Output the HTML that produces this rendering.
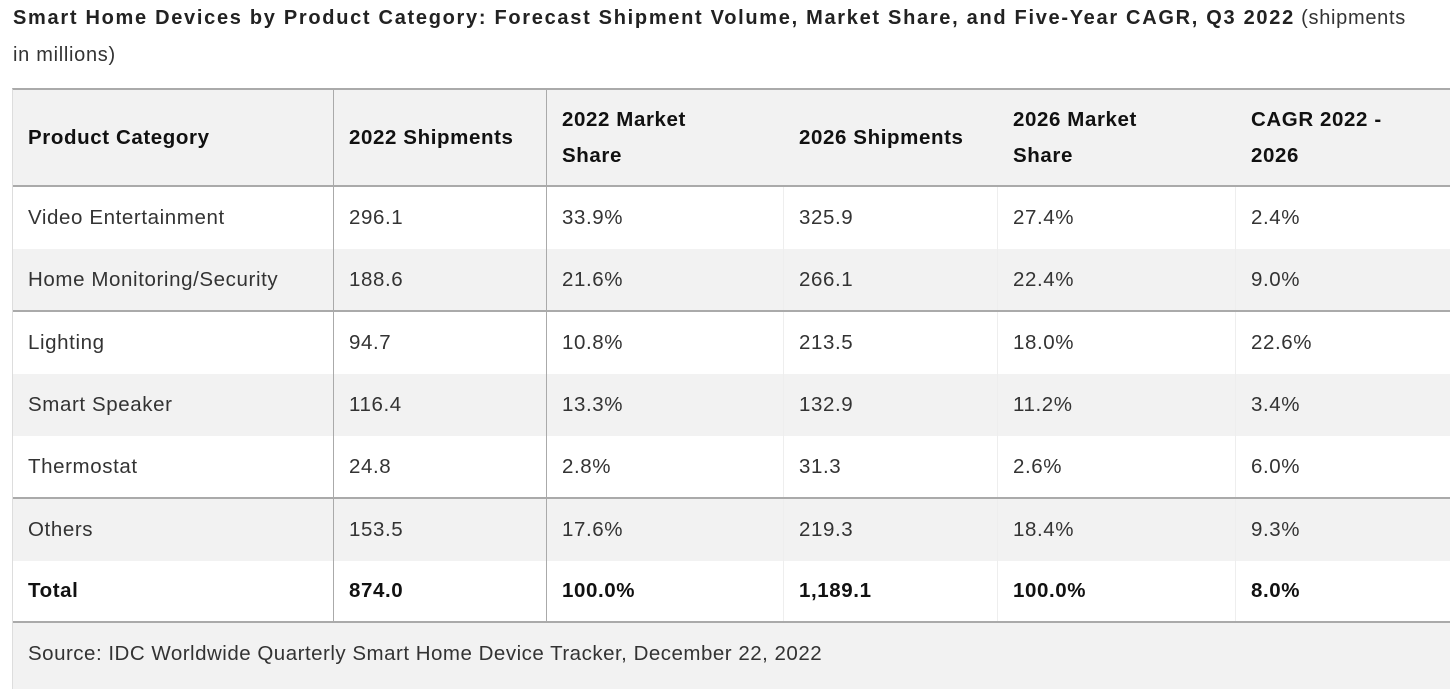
<!DOCTYPE html>
<html><head><meta charset="utf-8">
<style>
*{margin:0;padding:0;box-sizing:border-box}
body{width:1450px;height:689px;background:#fff;font-family:"Liberation Sans",Arial,sans-serif;color:#333;position:relative;overflow:hidden}
.title{position:absolute;left:13px;top:0px;width:1430px;font-size:20px;line-height:37px;color:#333;letter-spacing:0.7px}
.title b{color:#222;letter-spacing:1.7px}
.tbl{position:absolute;left:12px;top:88px;width:1438px;border-left:1px solid #ddd;border-top:2px solid #aaa}
.row{position:relative;display:flex;font-size:20.5px;letter-spacing:0.6px}
.row.g{background:#f2f2f2}
.row.bb{border-bottom:2px solid #aaa}
.c{display:flex;align-items:center;padding-left:15px;border-right:1px solid #eee;line-height:36px}
.c1{width:321px;border-right:1px solid #aaa}
.c2{width:213px;border-right:1px solid #aaa}
.c3{width:237px}.c4{width:214px}.c5{width:238px}.c6{flex:1;border-right:none}
.hdr .c{border-right-color:#f2f2f2}
.hdr .c1,.hdr .c2{border-right-color:#aaa}
.b{font-weight:bold;color:#111}
.src{position:absolute;left:12px;top:623px;width:1438px;height:66px;background:#f2f2f2;border-left:1px solid #ddd;font-size:20.5px;letter-spacing:0.5px;padding-left:15px;line-height:62px}
</style></head><body>
<div class="title"><b>Smart Home Devices by Product Category: Forecast Shipment Volume, Market Share, and Five-Year CAGR, Q3 2022</b> (shipments<br>in millions)</div>
<div class="tbl">
<div class="row g hdr bb b" style="height:97px">
<div class="c c1">Product Category</div>
<div class="c c2">2022 Shipments</div>
<div class="c c3">2022 Market<br>Share</div>
<div class="c c4">2026 Shipments</div>
<div class="c c5">2026 Market<br>Share</div>
<div class="c c6">CAGR 2022 -<br>2026</div>
</div>
<div class="row" style="height:62px"><div class="c c1">Video Entertainment</div><div class="c c2">296.1</div><div class="c c3">33.9%</div><div class="c c4">325.9</div><div class="c c5">27.4%</div><div class="c c6">2.4%</div></div>
<div class="row g bb" style="height:63px"><div class="c c1">Home Monitoring/Security</div><div class="c c2">188.6</div><div class="c c3">21.6%</div><div class="c c4">266.1</div><div class="c c5">22.4%</div><div class="c c6">9.0%</div></div>
<div class="row" style="height:62px"><div class="c c1">Lighting</div><div class="c c2">94.7</div><div class="c c3">10.8%</div><div class="c c4">213.5</div><div class="c c5">18.0%</div><div class="c c6">22.6%</div></div>
<div class="row g" style="height:62px"><div class="c c1">Smart Speaker</div><div class="c c2">116.4</div><div class="c c3">13.3%</div><div class="c c4">132.9</div><div class="c c5">11.2%</div><div class="c c6">3.4%</div></div>
<div class="row bb" style="height:63px"><div class="c c1">Thermostat</div><div class="c c2">24.8</div><div class="c c3">2.8%</div><div class="c c4">31.3</div><div class="c c5">2.6%</div><div class="c c6">6.0%</div></div>
<div class="row g" style="height:62px"><div class="c c1">Others</div><div class="c c2">153.5</div><div class="c c3">17.6%</div><div class="c c4">219.3</div><div class="c c5">18.4%</div><div class="c c6">9.3%</div></div>
<div class="row b bb" style="height:62px"><div class="c c1">Total</div><div class="c c2">874.0</div><div class="c c3">100.0%</div><div class="c c4">1,189.1</div><div class="c c5">100.0%</div><div class="c c6">8.0%</div></div>
</div>
<div class="src">Source: IDC Worldwide Quarterly Smart Home Device Tracker, December 22, 2022</div>
</body></html>
